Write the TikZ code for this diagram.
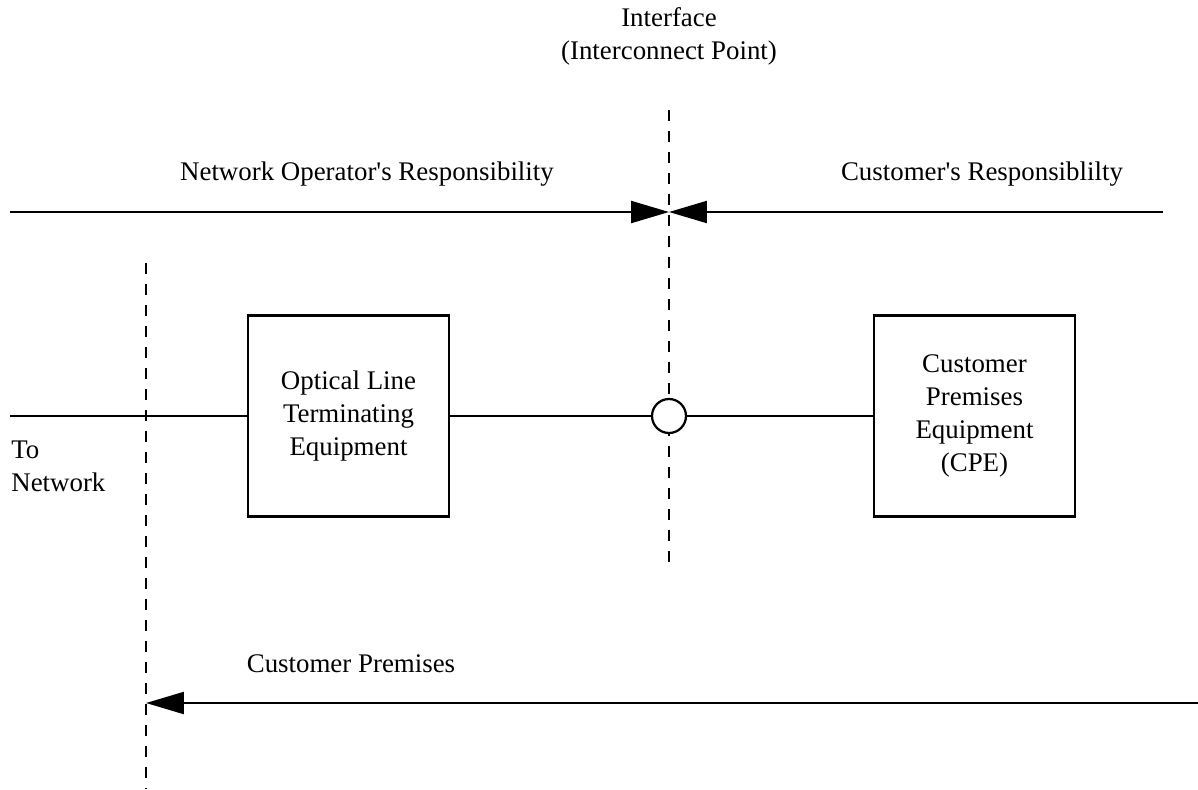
\documentclass[tikz,border=0pt]{standalone}
\usepackage{fontspec}
\setmainfont{Liberation Serif}
\usetikzlibrary{arrows.meta}
\tikzset{
  lbl/.style={font=\fontsize{15.3}{18.8}\selectfont, inner sep=0pt, align=center},
  eqbox/.style={lbl, draw, line width=0.045cm, minimum size=4.02cm},
  joint/.style={draw, circle, fill=white, line width=0.045cm, minimum size=0.68cm, inner sep=0pt},
  bound/.style={line width=0.05cm, dash pattern=on 0.22cm off 0.2cm},
  wire/.style={line width=0.045cm},
  tip/.style={wire, -{Triangle[length=0.76cm, width=0.44cm]}}
}
\begin{document}
\begin{tikzpicture}[x=0.02cm, y=-0.02cm]
                \useasboundingbox (0,0) rectangle (1198,789);
                % labels
                \node[lbl] (iface) at (669,36) {Interface\\(Interconnect Point)};
                \node[lbl] (opresp) at (367,174) {Network Operator\textquotesingle s Responsibility};
                \node[lbl] (curesp) at (982,174) {Customer\textquotesingle s Responsiblilty};
                \node[lbl, align=left, anchor=west] (tonet) at (11,466) {To\\Network};
                \node[lbl] (cprem) at (351,664) {Customer Premises};
                % boundaries
                \coordinate (ifTop) at (669,110);
                \coordinate (ifBot) at (669,568);
                \coordinate (cpTop) at (146,263);
                \coordinate (cpBot) at (146,789);
                \draw [bound] (ifTop) -- (ifBot);
                \draw [bound] (cpTop) -- (cpBot);
                % equipment
                \node[eqbox] (olt) at (348.5,416) {Optical Line\\Terminating\\Equipment};
                \node[eqbox] (cpe) at (974.5,416) {Customer\\Premises\\Equipment\\(CPE)};
                \node[joint] (ip) at (669,416) {};
                \coordinate (netEnd) at (10,416);
                \draw [wire] (netEnd) -- (olt);
                \draw [wire] (olt) -- (ip);
                \draw [wire] (ip) -- (cpe);
                % responsibility
                \coordinate (opL) at (10,212);
                \coordinate (ifMid) at (669,212);
                \coordinate (cuR) at (1163,212);
                \draw [tip] (opL) -- (ifMid);
                \draw [tip] (cuR) -- (ifMid);
                % premises
                \coordinate (cpR) at (1198,703);
                \coordinate (cpL) at (146,703);
                \draw [tip] (cpR) -- (cpL);
            \end{tikzpicture}
\end{document}
